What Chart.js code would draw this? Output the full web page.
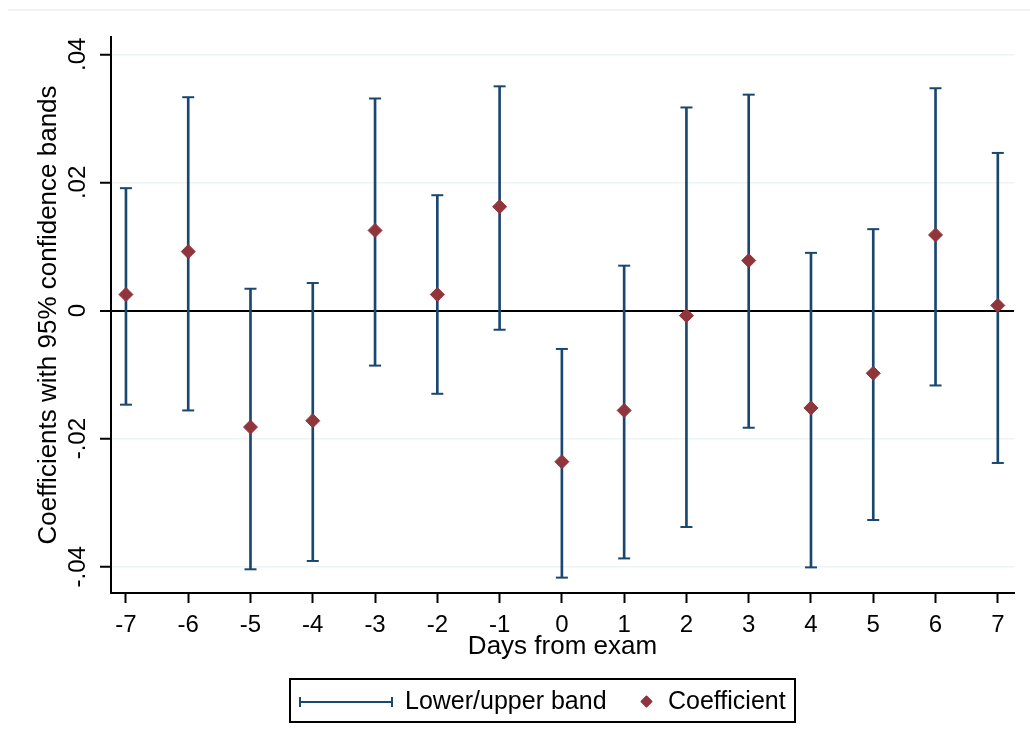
<!DOCTYPE html>
<html>
<head>
<meta charset="utf-8">
<script src="https://cdn.jsdelivr.net/npm/chart.js@4.4.1/dist/chart.umd.min.js"></script>
<style>
  body { margin: 0; background: #fff; font-family: "Liberation Sans", Arial, sans-serif; }
  #wrap { position: relative; width: 1030px; height: 753px; }
  #topline { position: absolute; left: 8px; right: 0; top: 9px; border-top: 2px solid #eef2f6; }
  #legend { position: absolute; left: 289px; top: 678px; width: 503px; height: 41px; border: 2px solid #000; }
  #legend .band { position: absolute; left: 8px; top: 17px; width: 90px; height: 10px;
                  border-left: 2px solid #1a476f; border-right: 2px solid #1a476f; }
  #legend .band::after { content: ""; position: absolute; left: 0; right: 0; top: 4px; border-top: 2px solid #1a476f; }
  #legend .diam { position: absolute; left: 351px; top: 17px; width: 9px; height: 9px; background: #90353b; transform: rotate(45deg); border-radius: 1px; }
  #legend span { position: absolute; top: 0; line-height: 41px; font-size: 25px; color: #000; white-space: nowrap; }
</style>
</head>
<body>
<div id="wrap">
  <canvas id="chart" width="1030" height="753"></canvas>
  <div id="topline"></div>
  <div id="legend">
    <div class="band"></div><span style="left:114px">Lower/upper band</span>
    <div class="diam"></div><span style="left:377px">Coefficient</span>
  </div>
</div>
<script>
const days = [-7, -6, -5, -4, -3, -2, -1, 0, 1, 2, 3, 4, 5, 6, 7];
const coef = [0.0025, 0.0092, -0.0182, -0.0172, 0.0125, 0.0025, 0.0162, -0.0236, -0.0156, -0.0008, 0.0078, -0.0152, -0.0098, 0.0118, 0.0008];
const upper = [0.0191, 0.0333, 0.0034, 0.0043, 0.0331, 0.0180, 0.0350, -0.0060, 0.0070, 0.0317, 0.0337, 0.0090, 0.0127, 0.0347, 0.0246];
const lower = [-0.0147, -0.0156, -0.0404, -0.0391, -0.0086, -0.0130, -0.0030, -0.0417, -0.0387, -0.0338, -0.0183, -0.0401, -0.0327, -0.0117, -0.0238];
const yTicks = [-0.04, -0.02, 0, 0.02, 0.04];
const yTickLabels = ['-.04', '-.02', '0', '.02', '.04'];

const navy = '#1a476f';
const maroon = '#90353b';
const font = "'Liberation Sans', Arial, sans-serif";

new Chart(document.getElementById('chart').getContext('2d'), {
    type: 'scatter',
    data: {
        datasets: [
            {
                label: 'Coefficient',
                data: days.map((d, i) => ({x: d, y: coef[i]})),
                pointStyle: 'rectRot',
                radius: 7,
                backgroundColor: maroon,
                borderColor: maroon,
                borderWidth: 1,
                order: 0
            },
            {
                type: 'bar',
                label: 'band',
                data: days.map((d, i) => ({x: d, y: [lower[i], upper[i]]})),
                backgroundColor: navy,
                barThickness: 2,
                grouped: false,
                order: 1
            },
            {
                label: 'upper',
                data: days.map((d, i) => ({x: d, y: upper[i]})),
                pointStyle: 'line',
                radius: 6,
                borderColor: navy,
                borderWidth: 2,
                order: 1
            },
            {
                label: 'lower',
                data: days.map((d, i) => ({x: d, y: lower[i]})),
                pointStyle: 'line',
                radius: 6,
                borderColor: navy,
                borderWidth: 2,
                order: 1
            }
        ]
    },
    options: {
        responsive: false,
        animation: false,
        devicePixelRatio: 1,
        layout: {padding: {left: 33, right: 16, top: 37, bottom: 91}},
        plugins: {legend: {display: false}, tooltip: {enabled: false}},
        scales: {
            x: {
                type: 'linear',
                min: -7.24,
                max: 7.26,
                offset: false,
                afterFit: s => { s.height = 69; },
                afterBuildTicks: s => { s.ticks = days.map(v => ({value: v})); },
                grid: {offset: false, drawOnChartArea: false, drawTicks: true, tickLength: 10, tickColor: '#000', tickWidth: 2},
                border: {color: '#000', width: 2},
                ticks: {color: '#000', font: {family: font, size: 24}, padding: 8, maxRotation: 0, minRotation: 0},
                title: {display: true, text: 'Days from exam', color: '#000', font: {family: font, size: 26}, padding: 0}
            },
            y: {
                min: -0.0441,
                max: 0.0427,
                afterFit: s => { s.width = 78; },
                afterBuildTicks: s => { s.ticks = yTicks.map(v => ({value: v})); },
                grid: {
                    color: c => (c.tick && c.tick.value === 0) ? '#000' : '#eef3f6',
                    lineWidth: c => (c.tick && c.tick.value === 0) ? 2 : 1.5,
                    tickColor: '#000', tickLength: 11, tickWidth: 2
                },
                border: {color: '#000', width: 2},
                ticks: {
                    color: '#000', font: {family: font, size: 24}, padding: 1,
                    minRotation: 90, maxRotation: 90, crossAlign: 'center',
                    callback: (v) => { const i = yTicks.indexOf(v); return i >= 0 ? yTickLabels[i] : ''; }
                },
                title: {display: true, text: 'Coefficients with 95% confidence bands', color: '#000', font: {family: font, size: 26}, padding: 0}
            }
        }
    }
});
</script>
</body>
</html>
